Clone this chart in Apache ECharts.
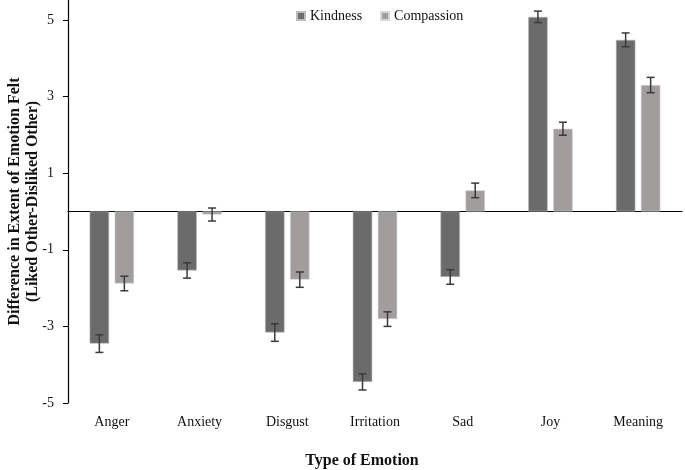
<!DOCTYPE html>
<html>
<head>
<meta charset="utf-8">
<script src="https://cdn.jsdelivr.net/npm/echarts@6/dist/echarts.min.js"></script>
<style>
  html, body { margin: 0; padding: 0; background: #fff; }
  #chart { width: 685px; height: 470px; }
</style>
</head>
<body>
<div id="chart"></div>
<script>
// 情绪类别
var emotions = ['Anger', 'Anxiety', 'Disgust', 'Irritation', 'Sad', 'Joy', 'Meaning']
// 均值 (Liked Other - Disliked Other)
var kindness = [-3.45, -1.54, -3.16, -4.45, -1.71, 5.08, 4.48]
var compassion = [-1.88, -0.08, -1.78, -2.81, 0.55, 2.16, 3.30]
// 误差 (±)
var kindnessErr = [0.23, 0.20, 0.23, 0.21, 0.19, 0.15, 0.18]
var compassionErr = [0.19, 0.17, 0.20, 0.19, 0.19, 0.17, 0.20]
// y 轴刻度
var yTicks = [-5, -3, -1, 1, 3, 5]

var FONT = '"Liberation Serif", "Times New Roman", serif'
var BAR_W = 19.5
var BAR_GAP = 5.5

var chart = echarts.init(document.getElementById('chart'))

// 误差线数据 [类别索引, 下限, 上限]
function errData (vals, errs) {
  return vals.map(function (v, i) { return [i, v - errs[i], v + errs[i]] })
}

// 画误差线, offset 为相对类别中心的水平偏移
function errRender (offset) {
  return function (params, api) {
    var lo = api.coord([api.value(0), api.value(1)])
    var hi = api.coord([api.value(0), api.value(2)])
    var x = lo[0] + offset
    var cap = 4
    var style = { stroke: '#3a3a3a', lineWidth: 1.5 }
    return {
      type: 'group',
      children: [
        { type: 'line', shape: { x1: x, y1: lo[1], x2: x, y2: hi[1] }, style: style },
        { type: 'line', shape: { x1: x - cap, y1: lo[1], x2: x + cap, y2: lo[1] }, style: style },
        { type: 'line', shape: { x1: x - cap, y1: hi[1], x2: x + cap, y2: hi[1] }, style: style }
      ]
    }
  }
}

var off = (BAR_W + BAR_GAP) / 2

var option = {
  animation: false,
  backgroundColor: '#fff',
  textStyle: { fontFamily: FONT },
  legend: {
    data: ['Kindness', 'Compassion'],
    left: 291,
    top: 4,
    itemWidth: 8,
    itemHeight: 8,
    itemGap: 18,
    icon: 'rect',
    textStyle: { fontFamily: FONT, fontSize: 14, color: '#111' }
  },
  grid: { left: 68, right: 3, top: 0, bottom: 67, outerBoundsMode: 'none', containLabel: false },
  xAxis: [
    {
      type: 'category',
      data: emotions,
      position: 'bottom',
      axisLine: { show: false, onZero: false },
      axisTick: { show: false },
      axisLabel: { fontFamily: FONT, fontSize: 14, color: '#111', margin: 12 },
      name: 'Type of Emotion',
      nameLocation: 'middle',
      nameGap: 50,
      nameMoveOverlap: false,
      nameTextStyle: { fontFamily: FONT, fontSize: 16, fontWeight: 'bold', color: '#111', padding: [0, 26, 0, 0] }
    },
    {
      type: 'category',
      data: emotions,
      position: 'bottom',
      axisLine: { show: true, onZero: true, lineStyle: { color: '#000', width: 1 } },
      axisTick: { show: false },
      axisLabel: { show: false }
    }
  ],
  yAxis: {
    type: 'value',
    position: 'left',
    min: -5,
    max: 5.52,
    splitLine: { show: false },
    axisLine: { show: true, onZero: false, lineStyle: { color: '#000', width: 1.2 } },
    axisTick: { show: true, length: 5, customValues: yTicks, lineStyle: { color: '#000' } },
    axisLabel: { fontFamily: FONT, fontSize: 14, color: '#111', margin: 14, customValues: yTicks },
    name: 'Difference in Extent of Emotion Felt\n(Liked Other-Disliked Other)',
    nameLocation: 'middle',
    nameGap: 26,
    nameMoveOverlap: false,
    nameTextStyle: { fontFamily: FONT, fontSize: 16, fontWeight: 'bold', color: '#111', lineHeight: 18 }
  },
  series: [
    {
      name: 'Kindness',
      type: 'bar',
      data: kindness,
      barWidth: BAR_W,
      barGap: (BAR_GAP / BAR_W * 100) + '%',
      itemStyle: { color: '#6b6b6b', borderColor: '#bdbdbd', borderWidth: 0.6 }
    },
    {
      name: 'Compassion',
      type: 'bar',
      data: compassion,
      barWidth: BAR_W,
      itemStyle: { color: '#a09d9c', borderColor: '#d6d6d6', borderWidth: 0.6 }
    },
    {
      type: 'custom',
      renderItem: errRender(-off),
      data: errData(kindness, kindnessErr),
      encode: { x: 0, y: [1, 2] },
      z: 5
    },
    {
      type: 'custom',
      renderItem: errRender(off),
      data: errData(compassion, compassionErr),
      encode: { x: 0, y: [1, 2] },
      z: 5
    }
  ]
}

chart.setOption(option)
</script>
</body>
</html>
